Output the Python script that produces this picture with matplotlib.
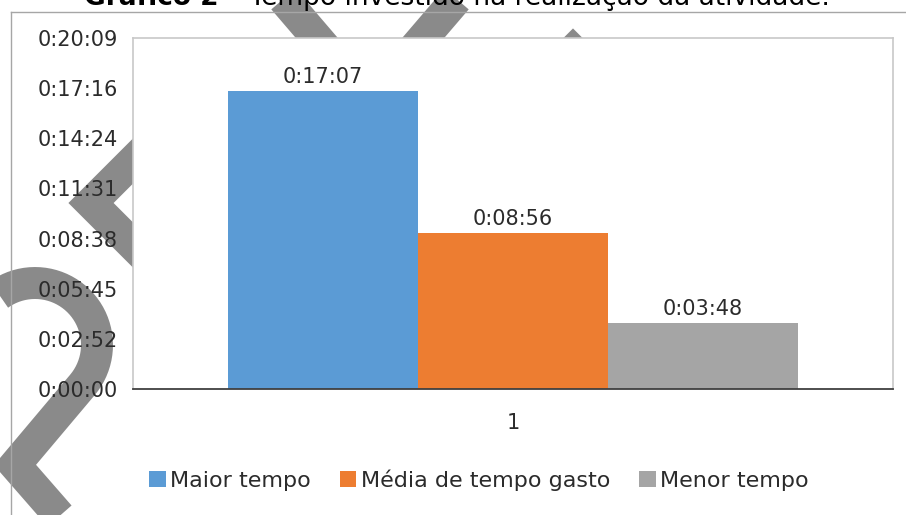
import matplotlib
matplotlib.use('Agg')
import matplotlib.pyplot as plt
import numpy as np
from matplotlib.lines import Line2D
from matplotlib.ticker import FixedLocator, FuncFormatter

# tempos em segundos
series = ['Maior tempo', 'Média de tempo gasto', 'Menor tempo']
tempos = [1027, 536, 228]
cores = ['#5B9BD5', '#ED7D31', '#A5A5A5']
categoria = ['1']
passo_y = 172.8          # 0,002 dia (eixo de horas do Excel)
n_ticks = 8

W, H = 906, 515


def hms(seg):
    seg = int(seg + 1e-6)
    return '{}:{:02d}:{:02d}'.format(seg // 3600, (seg % 3600) // 60, seg % 60)


def px(x, y):
    # pixel (origem no canto superior esquerdo) -> fração da figura
    return x / W, 1 - y / H


plt.rcParams['font.family'] = ['DejaVu Sans']
texto = '#2b2b2b'

fig = plt.figure(figsize=(W / 100, H / 100), dpi=100)
fig.patch.set_facecolor('white')

# marca d'água cinza por trás do gráfico
cinza = '#8a8a8a'
t = np.radians(np.linspace(200, -40, 60))
arco = [(35 + 62 * np.cos(a), 345 - 62 * np.sin(a)) for a in t]
tracos = [
    arco + [(15, 465), (70, 528)],
    [(171, 123), (91, 203), (171, 283)],
    [(250, -40), (370, 100), (490, -40)],
    [(570, -68), (630, -8), (690, -68)],
    [(473, 151), (573, 51), (673, 151)],
]
for tr in tracos:
    xs, ys = zip(*[px(x, y) for x, y in tr])
    fig.add_artist(Line2D(xs, ys, transform=fig.transFigure, color=cinza,
                          lw=23, solid_joinstyle='miter', solid_capstyle='butt',
                          zorder=-5))

# borda da área do gráfico
borda = '#a6a6a6'
fig.add_artist(Line2D([px(11, 0)[0], 1.0], [px(0, 12)[1]] * 2,
                      transform=fig.transFigure, color=borda, lw=1, zorder=-1))
fig.add_artist(Line2D([px(11, 0)[0]] * 2, [px(0, 12)[1], 0.0],
                      transform=fig.transFigure, color=borda, lw=1, zorder=-1))

# título (cortado no topo)
fig.text(*px(219, 5), 'Gráfico 2', ha='right', va='baseline', fontsize=19,
         fontweight='bold', color='black')
fig.text(*px(228, 5), '– Tempo investido na realização da atividade.',
         ha='left', va='baseline', fontsize=19, color='black')

l, t_ = px(133, 38)
r, b = px(893, 389)
ax = fig.add_axes([l, b, r - l, t_ - b])
ax.set_facecolor('white')

x = np.arange(len(categoria))
larg = 0.25
for i, (nome, v, c) in enumerate(zip(series, tempos, cores)):
    barras = ax.bar(x + (i - 1) * larg, [v], width=larg, color=c, label=nome,
                    zorder=2)
    ax.bar_label(barras, labels=[hms(v)], padding=3, fontsize=15, color=texto)

ax.set_xlim(-0.5, 0.5)
ax.set_ylim(0, passo_y * (n_ticks - 1))
ax.yaxis.set_major_locator(FixedLocator([passo_y * k for k in range(n_ticks)]))
ax.yaxis.set_major_formatter(FuncFormatter(lambda v, p: hms(v)))
ax.set_xticks(x)
ax.set_xticklabels(categoria)
ax.tick_params(axis='y', length=0, pad=11, labelsize=15, labelcolor=texto)
ax.tick_params(axis='x', length=0, pad=17, labelsize=15, labelcolor=texto)

for s in ['left', 'top', 'right']:
    ax.spines[s].set_color('#c8c8c8')
    ax.spines[s].set_linewidth(1.2)
ax.spines['bottom'].set_color('#404040')
ax.spines['bottom'].set_linewidth(1.3)

fig.legend(loc='center', bbox_to_anchor=px(479, 480), ncol=3, frameon=False,
           fontsize=16, handlelength=0.75, handleheight=0.75,
           handletextpad=0.2, columnspacing=1.3, labelcolor=texto)

fig.savefig('out.png', dpi=100, facecolor='white')
